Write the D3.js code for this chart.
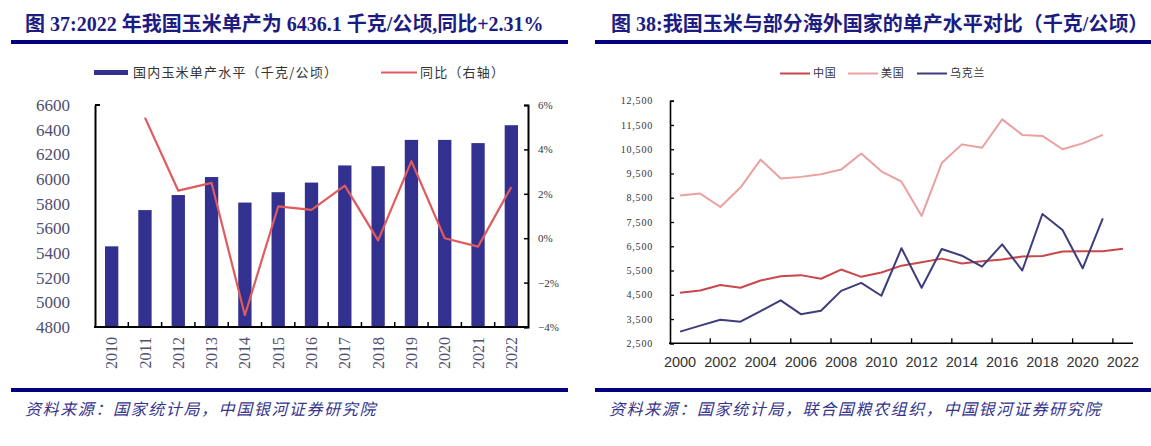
<!DOCTYPE html>
<html>
<head>
<meta charset="utf-8">
<script src="https://cdn.jsdelivr.net/npm/d3@7"></script>
<style>
  body { margin: 0; background: #fff; }
  svg { display: block; }
  .serif { font-family: "Liberation Serif", "DejaVu Serif", serif; }
  .cjk { font-family: "Noto Sans CJK SC", sans-serif; }
</style>
</head>
<body>
<svg id="chart" width="1151" height="446"></svg>
<script>
// ---- data: left chart (China yield + yoy) ----
const years37 = ["2010","2011","2012","2013","2014","2015","2016","2017","2018","2019","2020","2021","2022"];
const yieldCN = [5454, 5748, 5870, 6016, 5809, 5893, 5971, 6110, 6104, 6317, 6317, 6291, 6436.1];
const yoyCN = [null, 5.43, 2.14, 2.49, -3.47, 1.43, 1.28, 2.37, -0.1, 3.47, 0.0, -0.38, 2.31];
const leftTicks = [4800, 5000, 5200, 5400, 5600, 5800, 6000, 6200, 6400, 6600];
const rightTicks = [-4, -2, 0, 2, 4, 6];

// ---- data: right chart (China / USA / Ukraine) ----
const years38 = d3.range(2000, 2023).map(String);
const china = [4580, 4680, 4900, 4790, 5090, 5260, 5310, 5160, 5540, 5240, 5420, 5700, 5840, 5990, 5790, 5880, 5950, 6080, 6100, 6280, 6290, 6290, 6400];
const usa = [8590, 8670, 8120, 8920, 10070, 9290, 9360, 9470, 9660, 10320, 9590, 9160, 7750, 9930, 10700, 10560, 11730, 11090, 11050, 10500, 10740, 11090, null];
const ukraine = [2980, 3230, 3470, 3390, 3830, 4270, 3700, 3840, 4660, 4990, 4460, 6420, 4790, 6390, 6110, 5660, 6580, 5500, 7830, 7170, 5590, 7650, null];
const yTicks38 = [2500, 3500, 4500, 5500, 6500, 7500, 8500, 9500, 10500, 11500, 12500];
const xLabels38 = years38.filter((d, i) => i % 2 === 0);

const svg = d3.select("#chart");
const navy = "#000080";
const titleColor = "#1c1c82";
const srcColor = "#34348c";

// ===================== headers / footers =====================
function frame(x0, x1, titleX, title, srcX, source) {
    svg.append("text")
        .attr("x", titleX).attr("y", 31)
        .attr("font-size", 20).attr("font-weight", "bold")
        .attr("fill", titleColor)
        .style("font-family", "'Liberation Serif', 'Noto Sans CJK SC', serif")
        .text(title);
    svg.append("rect").attr("x", x0).attr("y", 40).attr("width", x1 - x0).attr("height", 4).attr("fill", navy);
    svg.append("rect").attr("x", x0).attr("y", 388).attr("width", x1 - x0).attr("height", 4).attr("fill", navy);
    svg.append("text")
        .attr("class", "cjk")
        .attr("x", srcX).attr("y", 415)
        .attr("font-size", 16).attr("font-style", "italic")
        .attr("letter-spacing", 1.6)
        .attr("fill", srcColor)
        .text(source);
}
frame(11, 568, 25, "图 37:2022 年我国玉米单产为 6436.1 千克/公顷,同比+2.31%", 25, "资料来源：国家统计局，中国银河证券研究院");
frame(595, 1151, 611, "图 38:我国玉米与部分海外国家的单产水平对比（千克/公顷）", 609, "资料来源：国家统计局，联合国粮农组织，中国银河证券研究院");

// ===================== left chart =====================
const L = { left: 95, right: 528, top: 105, bottom: 327 };
const barColor = "#33318f";
const yoyColor = "#e05a5e";

const x37 = d3.scaleBand().domain(years37).range([L.left, L.right]).paddingInner(0.6).paddingOuter(0.3);
const x37cell = d3.scaleBand().domain(years37).range([L.left, L.right]);
const y37 = d3.scaleLinear().domain([4800, 6600]).range([L.bottom, L.top]);
const y37r = d3.scaleLinear().domain([-4, 6]).range([L.bottom, L.top]);

// bars
svg.append("g").selectAll("rect")
    .data(years37)
    .enter().append("rect")
    .attr("x", d => x37(d))
    .attr("y", (d, i) => y37(yieldCN[i]))
    .attr("width", x37.bandwidth())
    .attr("height", (d, i) => L.bottom - y37(yieldCN[i]))
    .attr("fill", barColor);

// yoy line (right axis)
const yoyLine = d3.line()
    .defined(d => d.v !== null)
    .x(d => x37(d.k) + x37.bandwidth() / 2)
    .y(d => y37r(d.v));
svg.append("path")
    .datum(years37.map((k, i) => ({ k, v: yoyCN[i] })))
    .attr("d", yoyLine)
    .attr("fill", "none")
    .attr("stroke", yoyColor)
    .attr("stroke-width", 2.2)
    .attr("stroke-linejoin", "round");

// left axis
const axL = svg.append("g")
    .attr("transform", `translate(${L.left},0)`)
    .call(d3.axisLeft(y37).tickValues(leftTicks).tickSize(0).tickPadding(25).tickFormat(d3.format("d")));
axL.select(".domain").attr("stroke", "#000").attr("stroke-width", 2);
axL.selectAll("text").attr("font-size", 17).attr("fill", "#4f4f70")
    .style("font-family", "'Liberation Serif', serif");
svg.append("line").attr("x1", L.left).attr("x2", L.left + 5)
    .attr("y1", y37(6600)).attr("y2", y37(6600)).attr("stroke", "#000").attr("stroke-width", 2);

// right axis
const axR = svg.append("g")
    .attr("transform", `translate(${L.right},0)`)
    .call(d3.axisRight(y37r).tickValues(rightTicks).tickSize(-4).tickPadding(10).tickFormat(d => d3.format("d")(d) + "%"));
axR.select(".domain").attr("stroke", "#000").attr("stroke-width", 2);
axR.selectAll(".tick line").attr("stroke", "#000").attr("stroke-width", 1.5);
axR.selectAll("text").attr("font-size", 11).attr("fill", "#333")
    .style("font-family", "'Liberation Serif', serif");

// bottom axis with inward ticks at category borders
svg.append("line").attr("x1", L.left - 1).attr("x2", L.right + 1)
    .attr("y1", L.bottom).attr("y2", L.bottom).attr("stroke", "#000").attr("stroke-width", 2);
svg.append("g").selectAll("line")
    .data(years37.slice(1))
    .enter().append("line")
    .attr("x1", d => x37cell(d)).attr("x2", d => x37cell(d))
    .attr("y1", L.bottom).attr("y2", L.bottom - 5)
    .attr("stroke", "#000").attr("stroke-width", 1.5);
svg.append("g").selectAll("text")
    .data(years37)
    .enter().append("text")
    .attr("transform", d => `translate(${x37(d) + x37.bandwidth() / 2},${L.bottom + 10}) rotate(-90)`)
    .attr("text-anchor", "end")
    .attr("dy", "0.35em")
    .attr("font-size", 16)
    .attr("fill", "#4f4f70")
    .style("font-family", "'Liberation Serif', serif")
    .text(d => d);

// left legend
svg.append("rect").attr("x", 94).attr("y", 70).attr("width", 34).attr("height", 5).attr("fill", barColor);
svg.append("text").attr("class", "cjk").attr("x", 133).attr("y", 77)
    .attr("font-size", 13).attr("letter-spacing", 1.2).attr("fill", "#333")
    .text("国内玉米单产水平（千克/公顷）");
svg.append("line").attr("x1", 381).attr("x2", 417).attr("y1", 72.5).attr("y2", 72.5)
    .attr("stroke", yoyColor).attr("stroke-width", 2);
svg.append("text").attr("class", "cjk").attr("x", 420).attr("y", 77)
    .attr("font-size", 13).attr("letter-spacing", 1.2).attr("fill", "#333")
    .text("同比（右轴）");

// ===================== right chart =====================
const R = { left: 670, right: 1133, top: 100.7, bottom: 343.3 };
const series = [
    { name: "中国", values: china, color: "#c9474a" },
    { name: "美国", values: usa, color: "#eba0a0" },
    { name: "乌克兰", values: ukraine, color: "#3d3d7d" }
];

const x38 = d3.scaleBand().domain(years38).range([R.left, R.right]);
const y38 = d3.scaleLinear().domain([2500, 12500]).range([R.bottom, R.top]);

const line38 = d3.line()
    .defined(d => d.v !== null)
    .x(d => x38(d.k) + x38.bandwidth() / 2)
    .y(d => y38(d.v));

svg.append("g").selectAll("path")
    .data(series)
    .enter().append("path")
    .attr("d", s => line38(years38.map((k, i) => ({ k, v: s.values[i] }))))
    .attr("fill", "none")
    .attr("stroke", s => s.color)
    .attr("stroke-width", 2)
    .attr("stroke-linejoin", "round");

const axL38 = svg.append("g")
    .attr("transform", `translate(${R.left},0)`)
    .call(d3.axisLeft(y38).tickValues(yTicks38).tickSize(-4).tickPadding(17).tickFormat(d3.format(",")));
axL38.select(".domain").attr("stroke", "#000").attr("stroke-width", 1.6);
axL38.selectAll(".tick line").attr("stroke", "#000").attr("stroke-width", 1.3);
axL38.selectAll("text").attr("font-size", 10).attr("letter-spacing", 0.8).attr("fill", "#333")
    .style("font-family", "'Liberation Serif', serif");

svg.append("line").attr("x1", R.left - 1).attr("x2", R.right)
    .attr("y1", R.bottom).attr("y2", R.bottom).attr("stroke", "#000").attr("stroke-width", 1.6);
svg.append("g").selectAll("line")
    .data(xLabels38.slice(1))
    .enter().append("line")
    .attr("x1", d => x38(d)).attr("x2", d => x38(d))
    .attr("y1", R.bottom).attr("y2", R.bottom - 5)
    .attr("stroke", "#000").attr("stroke-width", 1.3);
svg.append("g").selectAll("text")
    .data(xLabels38)
    .enter().append("text")
    .attr("x", d => x38(d) + x38.bandwidth() / 2)
    .attr("y", R.bottom + 24)
    .attr("text-anchor", "middle")
    .attr("font-size", 14.5)
    .attr("fill", "#333")
    .style("font-family", "'Liberation Sans Narrow', 'Liberation Sans', sans-serif")
    .text(d => d);

// right legend
const legendX = [780, 848, 917];
const lg = svg.append("g").selectAll("g")
    .data(series)
    .enter().append("g")
    .attr("transform", (d, i) => `translate(${legendX[i]},73.5)`);
lg.append("line").attr("x1", 0).attr("x2", 30)
    .attr("stroke", d => d.color).attr("stroke-width", 2);
lg.append("text").attr("class", "cjk").attr("x", 33).attr("dy", "0.35em")
    .attr("font-size", 11).attr("letter-spacing", 0.8).attr("fill", "#333")
    .text(d => d.name);
</script>
</body>
</html>
